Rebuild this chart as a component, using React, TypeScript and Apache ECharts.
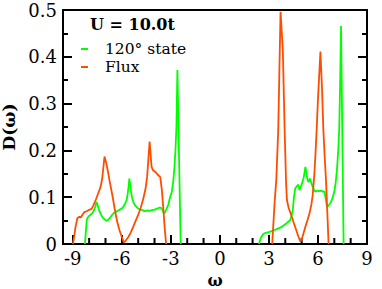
import React, { useEffect, useRef } from "react";
import * as echarts from "echarts";

const xMajorTicks = [-9, -6, -3, 0, 3, 6, 9];
const xMinorTicks = [-8, -7, -5, -4, -2, -1, 1, 2, 4, 5, 7, 8];

const stateOmegaLeft = [-8.26, -8.15, -8.1, -8.0, -7.9, -7.8, -7.7, -7.62, -7.55, -7.48, -7.4, -7.3, -7.2, -7.1, -7.0, -6.9, -6.8, -6.7, -6.6, -6.5, -6.4, -6.3, -6.2, -6.1, -6.0, -5.9, -5.8, -5.7, -5.64, -5.58, -5.54, -5.5, -5.45, -5.38, -5.3, -5.2, -5.1, -5.0, -4.9, -4.8, -4.7, -4.6, -4.5, -4.4, -4.3, -4.2, -4.1, -4.0, -3.9, -3.8, -3.7, -3.6, -3.5, -3.42, -3.35, -3.25, -3.15, -3.05, -2.95, -2.85, -2.78, -2.72, -2.66, -2.6, -2.4];
const stateDosLeft = [0, 0.05, 0.056, 0.06, 0.063, 0.066, 0.072, 0.08, 0.09, 0.083, 0.073, 0.065, 0.058, 0.054, 0.051, 0.05, 0.053, 0.057, 0.062, 0.066, 0.068, 0.07, 0.072, 0.074, 0.076, 0.08, 0.086, 0.095, 0.108, 0.125, 0.14, 0.13, 0.115, 0.1, 0.09, 0.083, 0.079, 0.076, 0.074, 0.073, 0.072, 0.07, 0.071, 0.072, 0.071, 0.072, 0.073, 0.073, 0.075, 0.076, 0.078, 0.077, 0.072, 0.065, 0.068, 0.076, 0.085, 0.1, 0.11, 0.135, 0.165, 0.2, 0.25, 0.372, 0];

const stateOmegaRight = [2.39, 2.5, 2.64, 2.8, 3.04, 3.2, 3.35, 3.55, 3.75, 3.96, 4.1, 4.2, 4.3, 4.38, 4.46, 4.53, 4.61, 4.7, 4.8, 4.87, 4.95, 5.03, 5.11, 5.17, 5.23, 5.28, 5.33, 5.38, 5.44, 5.5, 5.54, 5.6, 5.68, 5.76, 5.84, 5.95, 6.05, 6.19, 6.3, 6.4, 6.48, 6.55, 6.65, 6.8, 6.9, 7.0, 7.08, 7.16, 7.24, 7.3, 7.36, 7.41, 7.57];
const stateDosRight = [0, 0.013, 0.021, 0.024, 0.026, 0.028, 0.03, 0.033, 0.036, 0.041, 0.045, 0.048, 0.051, 0.06, 0.073, 0.1, 0.119, 0.123, 0.127, 0.115, 0.122, 0.13, 0.14, 0.15, 0.165, 0.155, 0.143, 0.135, 0.133, 0.14, 0.14, 0.13, 0.122, 0.115, 0.112, 0.114, 0.113, 0.114, 0.112, 0.112, 0.095, 0.08, 0.082, 0.09, 0.1, 0.112, 0.13, 0.158, 0.2, 0.244, 0.35, 0.466, 0];

const fluxOmegaLeft = [-8.99, -8.9, -8.83, -8.72, -8.6, -8.5, -8.4, -8.3, -8.15, -8.0, -7.85, -7.75, -7.6, -7.45, -7.3, -7.2, -7.06, -6.95, -6.85, -6.75, -6.6, -6.45, -6.3, -6.15, -6.0, -5.88, -5.75, -5.6, -5.45, -5.3, -5.15, -5.0, -4.85, -4.7, -4.55, -4.45, -4.3, -4.18, -4.1, -3.95, -3.8, -3.65, -3.55, -3.45, -3.38, -3.29];
const fluxDosLeft = [0, 0.02, 0.037, 0.055, 0.058, 0.057, 0.063, 0.068, 0.07, 0.073, 0.075, 0.082, 0.094, 0.108, 0.122, 0.14, 0.187, 0.172, 0.155, 0.135, 0.108, 0.078, 0.05, 0.03, 0.015, 0.003, 0.008, 0.015, 0.025, 0.037, 0.05, 0.062, 0.077, 0.095, 0.118, 0.145, 0.219, 0.165, 0.158, 0.154, 0.148, 0.143, 0.115, 0.07, 0.035, 0];

const fluxOmegaRight = [3.2, 3.35, 3.45, 3.57, 3.71, 3.85, 3.96, 4.05, 4.1, 4.2, 4.36, 4.5, 4.67, 4.8, 4.93, 5.05, 5.23, 5.35, 5.48, 5.6, 5.68, 5.78, 5.84, 5.92, 6.0, 6.15, 6.25, 6.33, 6.42, 6.49, 6.57, 6.65];
const fluxDosRight = [0, 0.09, 0.137, 0.244, 0.496, 0.415, 0.244, 0.13, 0.094, 0.078, 0.062, 0.047, 0.03, 0.016, 0.005, 0.015, 0.037, 0.05, 0.065, 0.085, 0.105, 0.15, 0.187, 0.244, 0.31, 0.411, 0.33, 0.244, 0.18, 0.137, 0.07, 0];

const FONT = "DejaVu Serif";

function pairs(xl: number[], yl: number[], xr: number[], yr: number[]) {
  const out: any[] = [];
  xl.forEach((x, i) => out.push([x, yl[i]]));
  out.push([0, null]);
  xr.forEach((x, i) => out.push([x, yr[i]]));
  return out;
}

export default function App() {
  const ref = useRef<HTMLDivElement>(null);
  useEffect(() => {
    document.body.style.margin = "0";
    const chart = echarts.init(ref.current!, null, { renderer: "svg" });
    const axisLine = { show: true, onZero: false, lineStyle: { color: "#000", width: 2 } };
    chart.setOption({
      animation: false,
      backgroundColor: "#fff",
      title: {
        text: "U = 10.0t",
        left: 90,
        top: 16,
        padding: 0,
        textStyle: { fontFamily: FONT, fontSize: 16, fontWeight: "bold", color: "#000" },
      },
      legend: {
        orient: "vertical",
        left: 81,
        top: 41,
        padding: 0,
        itemGap: 2,
        itemWidth: 7,
        itemHeight: 2,
        icon: "rect",
        data: ["120° state", "Flux"],
        textStyle: {
          fontFamily: FONT,
          fontSize: 15.5,
          color: "#000",
          lineHeight: 15,
          padding: [0, 0, 0, 12],
        },
      },
      grid: {
        left: 63,
        top: 10,
        right: 15,
        bottom: 45,
        outerBoundsMode: "none",
        containLabel: false,
        show: true,
        borderColor: "#000",
        borderWidth: 2,
      },
      xAxis: {
        type: "value",
        min: -9.6,
        max: 9,
        position: "bottom",
        axisLine,
        splitLine: { show: false },
        axisTick: {
          show: true,
          inside: true,
          length: 9,
          customValues: xMajorTicks,
          lineStyle: { color: "#000", width: 2 },
        },
        axisLabel: {
          customValues: xMajorTicks,
          fontFamily: FONT,
          fontSize: 18,
          color: "#000",
          margin: 5,
        },
        name: "ω",
        nameLocation: "middle",
        nameGap: 20,
        nameTextStyle: { fontFamily: FONT, fontSize: 16, fontWeight: "bold", color: "#000", lineHeight: 18 },
      },
      yAxis: [
        {
          type: "value",
          min: 0,
          max: 0.5,
          interval: 0.1,
          position: "left",
          axisLine,
          splitLine: { show: false },
          axisTick: { show: true, inside: true, length: 9, lineStyle: { color: "#000", width: 2 } },
          minorTick: { show: true, splitNumber: 2, length: 5, lineStyle: { color: "#000", width: 2 } },
          axisLabel: {
            fontFamily: FONT,
            fontSize: 18,
            color: "#000",
            margin: 6,
            formatter: (v: number) => (v === 0 ? "0" : v.toFixed(1)),
          },
          name: "D(ω)",
          nameLocation: "middle",
          nameGap: 40,
          nameTextStyle: { fontFamily: FONT, fontSize: 17, fontWeight: "bold", color: "#000" },
        },
        {
          type: "value",
          min: 0,
          max: 0.5,
          interval: 0.1,
          position: "right",
          axisLine,
          splitLine: { show: false },
          axisTick: { show: true, inside: true, length: 9, lineStyle: { color: "#000", width: 2 } },
          minorTick: { show: true, splitNumber: 2, length: 5, lineStyle: { color: "#000", width: 2 } },
          axisLabel: { show: false },
        },
      ],
      series: [
        {
          type: "custom",
          silent: true,
          clip: false,
          data: xMinorTicks.map((v) => [v, 0]),
          encode: { x: 0, y: 1 },
          renderItem: (params: any, api: any) => {
            const p = api.coord([api.value(0), 0]);
            return {
              type: "line",
              shape: { x1: p[0], y1: p[1], x2: p[0], y2: p[1] - 6 },
              style: { stroke: "#000", lineWidth: 2 },
            };
          },
          z: 3,
        },
        {
          name: "120° state",
          type: "line",
          showSymbol: false,
          symbol: "none",
          color: "#00ff00",
          lineStyle: { color: "#00ff00", width: 1.8 },
          data: pairs(stateOmegaLeft, stateDosLeft, stateOmegaRight, stateDosRight),
        },
        {
          name: "Flux",
          type: "line",
          showSymbol: false,
          symbol: "none",
          color: "#ff4d00",
          lineStyle: { color: "#ff4d00", width: 1.8 },
          data: pairs(fluxOmegaLeft, fluxDosLeft, fluxOmegaRight, fluxDosRight),
        },
      ],
    });
    return () => chart.dispose();
  }, []);
  return (
    <div
      ref={ref}
      style={{ position: "fixed", left: 0, top: 0, width: 382, height: 289 }}
    />
  );
}
